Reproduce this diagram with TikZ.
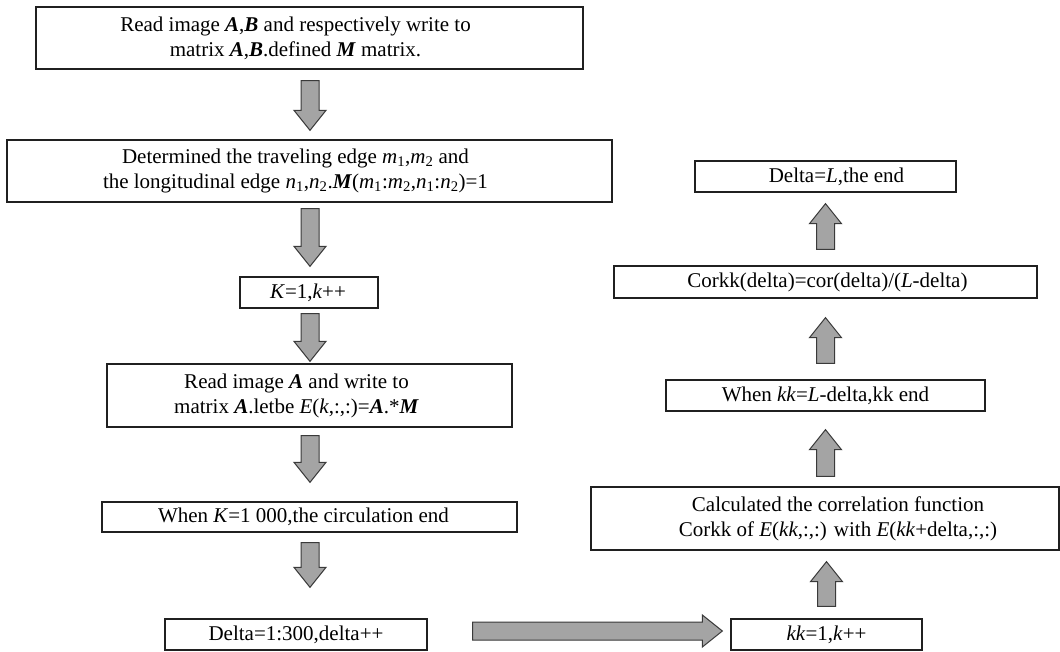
\documentclass[tikz,border=0pt]{standalone}
\usepackage{fontspec}
\setmainfont{Liberation Serif}
\usetikzlibrary{calc}
\newcommand\bi[1]{\textbf{\textit{#1}}}
\newcommand\ii[1]{\textit{#1}}
\newcommand\sbs[1]{\textsubscript{#1}}
\definecolor{boxline}{HTML}{202020}
\definecolor{arrowline}{HTML}{3A3A3A}
\definecolor{arrowfill}{HTML}{A4A4A4}
\begin{document}
\begin{tikzpicture}[x=1pt,y=-1pt,
  box/.style={draw=boxline, line width=1.3pt, inner sep=0pt, fill=white},
  txt/.style={inner sep=0pt, align=center, font=\fontsize{21}{25}\selectfont},
  fat/.style={draw=arrowline, fill=arrowfill, line width=1pt, line join=miter,
    to path={
      ($(\tikztostart)!9pt!90:(\tikztotarget)$)
      -- ($(\tikztotarget)!20pt!(\tikztostart)!9pt!90:(\tikztotarget)$)
      -- ($(\tikztotarget)!20pt!(\tikztostart)!16pt!90:(\tikztotarget)$)
      -- (\tikztotarget)
      -- ($(\tikztotarget)!20pt!(\tikztostart)!16pt!-90:(\tikztotarget)$)
      -- ($(\tikztotarget)!20pt!(\tikztostart)!9pt!-90:(\tikztotarget)$)
      -- ($(\tikztostart)!9pt!-90:(\tikztotarget)$) -- cycle}}]
\useasboundingbox[fill=white] (0,0) rectangle (1060,652);

% left column
\node[box, minimum width=547pt, minimum height=62pt] (b1) at (309.5,38) {};
\node[txt] at ($(b1)+(-14,0)$) {Read image \bi{A},\bi{B} and respectively write to\\matrix \bi{A},\bi{B}.defined \bi{M} matrix.};

\node[box, minimum width=605pt, minimum height=62pt] (b2) at (309.5,171) {};
\node[txt] at ($(b2)+(-14,0)$) {Determined the traveling edge \ii{m}\sbs{1},\ii{m}\sbs{2} and\\the longitudinal edge \ii{n}\sbs{1},\ii{n}\sbs{2}.\bi{M}(\ii{m}\sbs{1}:\ii{m}\sbs{2},\ii{n}\sbs{1}:\ii{n}\sbs{2})=1};

\node[box, minimum width=138pt, minimum height=31pt] (b3) at (309,292.5) {};
\node[txt] at ($(b3)+(-1,0)$) {\ii{K}=1,\ii{k}++};

\node[box, minimum width=405pt, minimum height=63pt] (b4) at (309.5,395.5) {};
\node[txt] at ($(b4)+(-13,0)$) {Read image \bi{A} and write to\\matrix \bi{A}.letbe \ii{E}(\ii{k},:,:)=\bi{A}.*\bi{M}};

\node[box, minimum width=415pt, minimum height=30pt] (b5) at (309.5,517) {};
\node[txt] at ($(b5)+(-6,0)$) {When \ii{K}=1 000,the circulation end};

\node[box, minimum width=262pt, minimum height=31pt] (b6) at (296,634.5) {};
\node[txt] at (b6) {Delta=1:300,delta++};

% right column
\node[box, minimum width=191pt, minimum height=31pt] (kk) at (826.5,634.5) {};
\node[txt] at (kk) {\ii{kk}=1,\ii{k}++};

\node[box, minimum width=468pt, minimum height=63pt] (corr) at (825,518.5) {};
\node[txt] at ($(corr)+(13,0)$) {Calculated the correlation function\\Corkk of \ii{E}(\ii{kk},:,:) with \ii{E}(\ii{kk}+delta,:,:)};

\node[box, minimum width=319pt, minimum height=31pt] (when) at (825.5,395.5) {};
\node[txt] at (when) {When \ii{kk}=\ii{L}-delta,kk end};

\node[box, minimum width=423pt, minimum height=32pt] (cork) at (825.5,282) {};
\node[txt] at ($(cork)+(2,0)$) {Corkk(delta)=cor(delta)/(\ii{L}-delta)};

\node[box, minimum width=261pt, minimum height=31pt] (dL) at (825.5,176.5) {};
\node[txt] at ($(dL)+(11,0)$) {Delta=\ii{L},the end};

% arrow end points
\coordinate (a1s) at ($(b1.south)+(0.5,11)$);
\coordinate (a1e) at ($(b2.north)+(0.5,-9)$);
\coordinate (a2s) at ($(b2.south)+(0.5,6)$);
\coordinate (a2e) at ($(b3.north)+(1,-10)$);
\coordinate (a3s) at ($(b3.south)+(1,5)$);
\coordinate (a3e) at ($(b4.north)+(0.5,-2)$);
\coordinate (a4s) at ($(b4.south)+(0.5,8)$);
\coordinate (a4e) at ($(b5.north)+(0.5,-19)$);
\coordinate (a5s) at ($(b5.south)+(0.5,10)$);
\coordinate (a5e) at ($(b6.north -| a5s)+(0,-31)$);
\coordinate (hs) at ($(b6.east)+(45,-3.5)$);
\coordinate (he) at ($(kk.west)+(-8,-3.5)$);
\coordinate (r1s) at ($(kk.north)+(0,-12)$);
\coordinate (r1e) at ($(corr.south -| r1s)+(0,11)$);
\coordinate (r2s) at ($(corr.north)+(0.5,-10)$);
\coordinate (r2e) at ($(when.south)+(0,18)$);
\coordinate (r3s) at ($(when.north)+(0,-16)$);
\coordinate (r3e) at ($(cork.south)+(0,19)$);
\coordinate (r4s) at ($(cork.north)+(0,-16)$);
\coordinate (r4e) at ($(dL.south)+(0,11)$);

\draw[fat] (a1s) to (a1e);
\draw[fat] (a2s) to (a2e);
\draw[fat] (a3s) to (a3e);
\draw[fat] (a4s) to (a4e);
\draw[fat] (a5s) to (a5e);
\draw[fat] (hs) to (he);
\draw[fat] (r1s) to (r1e);
\draw[fat] (r2s) to (r2e);
\draw[fat] (r3s) to (r3e);
\draw[fat] (r4s) to (r4e);
\end{tikzpicture}
\end{document}
